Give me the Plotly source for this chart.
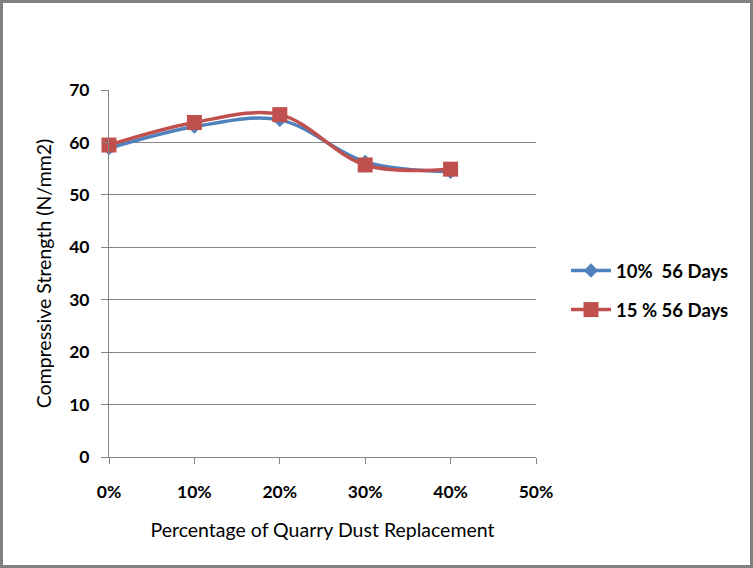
import plotly.graph_objects as go

x_pct = [0, 10, 20, 30, 40]
s10_56 = [58.9, 63.0, 64.3, 56.3, 54.4]
s15_56 = [59.5, 63.8, 65.3, 55.7, 54.9]
x_ticks = [0, 10, 20, 30, 40, 50]
x_tick_labels = ["0%", "10%", "20%", "30%", "40%", "50%"]
names = ["10%\u00a0 56 Days", "15 % 56 Days"]

W, H = 753, 568
L, R, T, B = 109, 217, 90, 111
pw, ph = W - L - R, H - T - B

FONT = "Lato"
fig = go.Figure()
fig.add_trace(go.Scatter(
    x=x_pct, y=s10_56, name=names[0], mode="lines+markers",
    line=dict(color="#4F81BD", width=3.5, shape="spline", smoothing=1),
    marker=dict(symbol="diamond", size=11, color="#4F81BD"),
    cliponaxis=False, legendgroup="a"))
fig.add_trace(go.Scatter(
    x=x_pct, y=s15_56, name=names[1], mode="lines+markers",
    line=dict(color="#C0504D", width=3.5, shape="spline", smoothing=1),
    marker=dict(symbol="square", size=15, color="#C0504D"),
    cliponaxis=False, legendgroup="b"))

def px_x(p):
    return (p - L) / pw

def px_y(p):
    return (H - B - p) / ph

fig.add_shape(type="rect", xref="paper", yref="paper",
              x0=px_x(1.5), x1=px_x(751.5), y0=px_y(566.5), y1=px_y(1.5),
              line=dict(color="#808080", width=3), layer="above")

fig.update_layout(
    template="none",
    width=W, height=H,
    margin=dict(l=L, r=R, t=T, b=B, autoexpand=False),
    paper_bgcolor="white", plot_bgcolor="white",
    font=dict(family=FONT, color="black"),
    showlegend=True,
    legend=dict(x=px_x(566), y=px_y(252), xanchor="left", yanchor="top",
                font=dict(family=FONT, size=18.5, color="black", weight="bold"),
                traceorder="grouped", tracegroupgap=12, itemwidth=40,
                bgcolor="rgba(0,0,0,0)", borderwidth=0),
    xaxis=dict(range=[0, 50], tickvals=x_ticks, ticktext=x_tick_labels,
               showgrid=False, zeroline=False, showline=True,
               linecolor="#868686", linewidth=1, automargin=False,
               ticks="outside", ticklen=6, tickcolor="#868686",
               ticklabelstandoff=13,
               tickfont=dict(family=FONT, size=17.5, weight="bold"),
               title=dict(text="Percentage of Quarry Dust Replacement",
                          font=dict(family=FONT, size=19.5), standoff=22)),
    yaxis=dict(range=[0, 70], dtick=10, showgrid=True, gridcolor="#868686",
               gridwidth=1, zeroline=False, showline=True,
               linecolor="#868686", linewidth=1, automargin=False,
               ticks="outside", ticklen=7, tickcolor="#868686",
               ticklabelstandoff=8,
               tickfont=dict(family=FONT, size=17.5, weight="bold"),
               title=dict(text="Compressive Strength (N/mm2)",
                          font=dict(family=FONT, size=19.5), standoff=12)),
)

fig.write_html("out.html", config={"displayModeBar": False},
               post_script="document.body.style.margin='0';document.body.style.padding='0';")
